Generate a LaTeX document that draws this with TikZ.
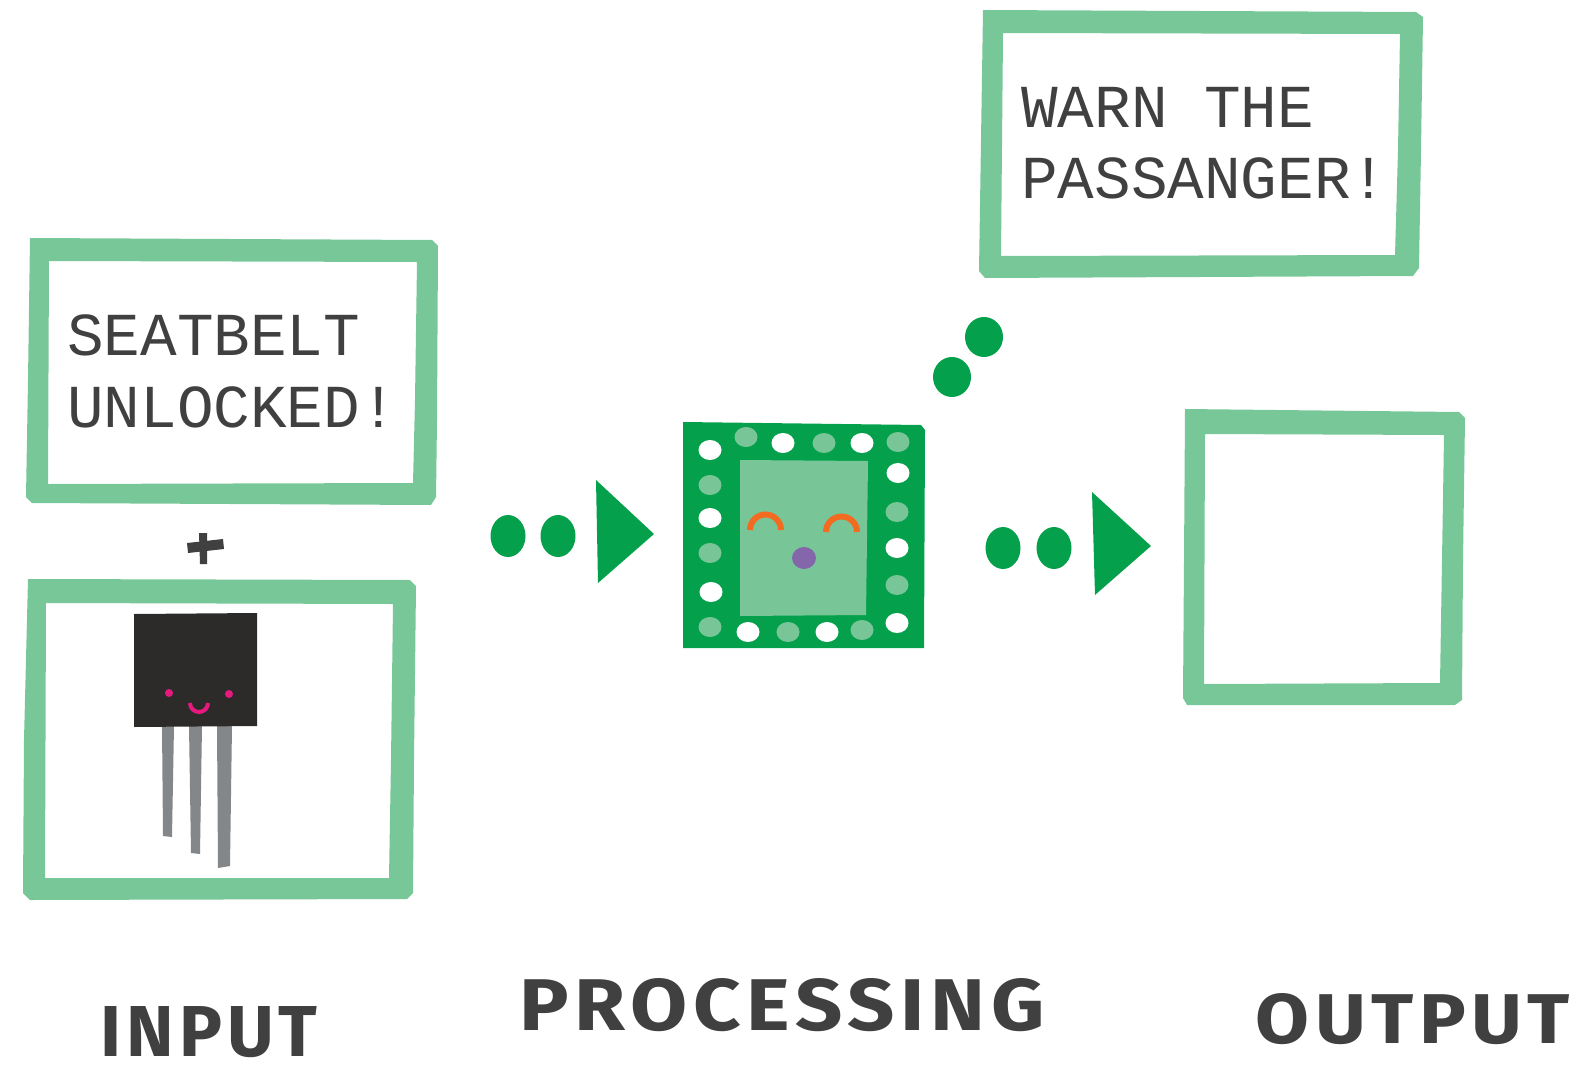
\documentclass[tikz,border=0pt]{standalone}
\usepackage{fontspec}
\newfontfamily\boxfont{Liberation Mono}
\newfontfamily\labelfont{Fira Sans}[LetterSpace=7]
\definecolor{framegreen}{HTML}{78C798}
\definecolor{chipgreen}{HTML}{05A04B}
\definecolor{padgreen}{HTML}{78C698}
\definecolor{inkgray}{HTML}{404040}
\definecolor{bodyblack}{HTML}{2D2B29}
\definecolor{leggray}{HTML}{84878A}
\definecolor{facepink}{HTML}{E6197E}
\definecolor{eyeorange}{HTML}{F26B21}
\definecolor{nosepurple}{HTML}{8466AB}
\tikzset{
	greenframe/.style={fill=framegreen, even odd rule},
	boxtext/.style={anchor=base west, inner sep=0pt, text=inkgray, font=\boxfont\fontsize{61}{71}\selectfont},
	steplabel/.style={inner sep=0pt, text=inkgray},
	blob/.style={fill=chipgreen},
}
\begin{document}
\begin{tikzpicture}[x=1pt, y=-1pt]
		\useasboundingbox (0,0) rectangle (1589,1073);
		% input message box
		\fill[greenframe] (30,238) -- (432,240) -- (438,246) -- (437,420) -- (436,497) -- (431,505) -- (32,503) -- (26,497) -- (28,380) -- cycle
			(49,261) -- (417,262) -- (415,400) -- (413,483) -- (48,484) -- cycle;
		\node[boxtext] (seat) at (67,355) {SEATBELT};
		\node[boxtext] (unlocked) at (67,427) {UNLOCKED!};
		% plus
		\fill[inkgray] (187,543) -- (223,539) -- (224,549) -- (188,553) -- cycle;
		\fill[inkgray] (199,533) -- (207,533) -- (207,564) -- (200,564) -- cycle;
		% sensor box
		\fill[greenframe] (28,579) -- (410,580) -- (416,586) -- (414,760) -- (413,893) -- (407,899) -- (30,900) -- (23,893) -- (24,740) -- cycle
			(46,603) -- (393,604) -- (391,760) -- (389,878) -- (45,878) -- cycle;
		\fill[leggray] (162,726) -- (174,726) -- (172,837) -- (163,836) -- cycle;
		\fill[leggray] (189,726) -- (202,726) -- (200,854) -- (191,853) -- cycle;
		\fill[leggray] (217,726) -- (232,726) -- (230,866) -- (218,868) -- cycle;
		\fill[bodyblack] (134,614) -- (257,613) -- (257,726) -- (134,727) -- cycle;
		\fill[facepink] (169,693) circle [radius=4];
		\fill[facepink] (229,694) circle [radius=4];
		\draw[facepink, line width=4pt] (190,703) arc [start angle=180, end angle=0, radius=9];
		% dots and arrow heads
		\foreach \x in {508,558}
			\fill[blob] (\x,536) ellipse [x radius=17.5, y radius=21];
		\fill[blob] (596,480) -- (654,534) -- (598,583) -- cycle;
		\foreach \x in {1003,1054}
			\fill[blob] (\x,548) ellipse [x radius=17.5, y radius=21];
		\fill[blob] (1092,492) -- (1151,546) -- (1095,595) -- cycle;
		\fill[blob] (984,337) ellipse [x radius=19, y radius=20];
		\fill[blob] (952,377) ellipse [x radius=19, y radius=20];
		% chip
		\fill[chipgreen] (683,422) -- (921,425) -- (925,430) -- (924,648) -- (683,648) -- cycle;
		\fill[padgreen] (740,460) -- (868,461) -- (866,615) -- (740,616) -- cycle;
		\foreach \x/\y/\c in {746/437/padgreen, 783/443/white, 824/443/padgreen, 862/443/white, 898/442/padgreen,
			710/450/white, 710/485/padgreen, 710/518/white, 710/553/padgreen, 711/592/white, 710/627/padgreen,
			748/632/white, 788/632/padgreen, 827/632/white, 862/630/padgreen,
			898/473/white, 897/512/padgreen, 897/548/white, 897/585/padgreen, 897/623/white}
			\fill[\c] (\x,\y) ellipse [x radius=11.5, y radius=10];
		\draw[eyeorange, line width=6pt] (750,530) arc [start angle=180, end angle=360, radius=15.5];
		\draw[eyeorange, line width=6pt] (826,532) arc [start angle=180, end angle=360, radius=15.5];
		\fill[nosepurple] (804,558) ellipse [x radius=12, y radius=11];
		% output message box
		\fill[greenframe] (983,10) -- (1416,12) -- (1423,17) -- (1421,150) -- (1419,268) -- (1413,276) -- (985,278) -- (979,271) -- (981,140) -- cycle
			(1003,33) -- (1400,34) -- (1398,150) -- (1395,255) -- (1001,256) -- cycle;
		\node[boxtext] (warn) at (1021,127) {WARN THE};
		\node[boxtext] (passanger) at (1021,198) {PASSANGER!};
		% empty output box
		\fill[greenframe] (1185,409) -- (1459,412) -- (1465,418) -- (1463,560) -- (1462,700) -- (1455,705) -- (1187,705) -- (1183,698) -- (1184,560) -- cycle
			(1205,434) -- (1444,435) -- (1442,560) -- (1440,683) -- (1204,684) -- cycle;
		% stage labels
		\node[steplabel] (input) at (209,1032) {\resizebox{217pt}{50pt}{\labelfont\bfseries INPUT}};
		\node[steplabel] (processing) at (782,1005) {\resizebox{525pt}{52pt}{\labelfont\bfseries PROCESSING}};
		\node[steplabel] (output) at (1413,1019) {\resizebox{314pt}{50pt}{\labelfont\bfseries OUTPUT}};
\end{tikzpicture}
\end{document}
